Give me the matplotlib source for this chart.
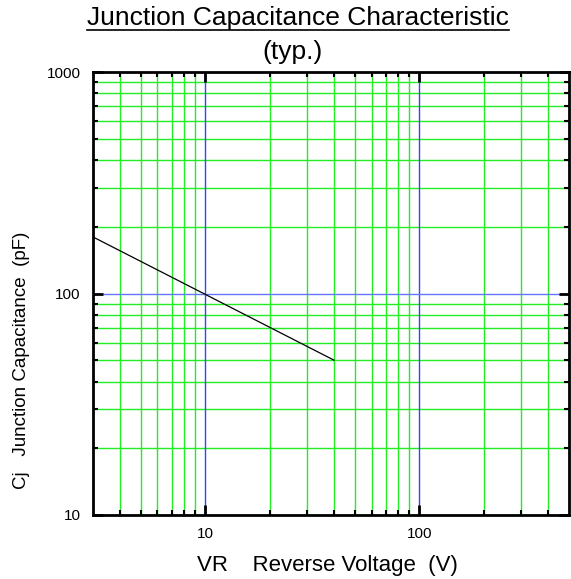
import matplotlib
matplotlib.use("Agg")
import matplotlib.pyplot as plt
from matplotlib.lines import Line2D
from matplotlib.ticker import NullFormatter, FixedLocator, FixedFormatter

plt.rcParams['font.family'] = ['Liberation Sans', 'DejaVu Sans']

# Donnees
vr = [3, 40]
cj = [180, 50]
x_major = [10, 100]
x_minor = [4, 5, 6, 7, 8, 9, 20, 30, 40, 50, 60, 70, 80, 90, 200, 300, 400]
y_major = [10, 100, 1000]
y_minor = [20, 30, 40, 50, 60, 70, 80, 90, 200, 300, 400, 500, 600, 700, 800, 900]

fig = plt.figure(figsize=(5.71, 5.79), dpi=100)
ax = fig.add_axes([93/571, 1 - 515/579, (569-93)/571, (515-72)/579])
ax.set_xscale('log')
ax.set_yscale('log')
ax.set_xlim(3, 500)
ax.set_ylim(10, 1000)

# Grille
for v in x_minor:
    ax.axvline(v, color='#22ee22', lw=1.0, zorder=1)
for v in y_minor:
    ax.axhline(v, color='#22ee22', lw=1.0, zorder=1)
for v in x_major:
    ax.axvline(v, color='#3344ff', lw=1.0, zorder=1.5)
ax.axhline(100, color='#6677ff', lw=1.0, zorder=1.5)

ax.plot(vr, cj, color='black', lw=0.9, zorder=3)

# Graduations
ax.xaxis.set_major_locator(FixedLocator(x_major))
ax.xaxis.set_major_formatter(FixedFormatter(['10', '100']))
ax.xaxis.set_minor_locator(FixedLocator(x_minor))
ax.xaxis.set_minor_formatter(NullFormatter())
ax.yaxis.set_major_locator(FixedLocator(y_major))
ax.yaxis.set_major_formatter(FixedFormatter(['10', '100', '1000']))
ax.yaxis.set_minor_locator(FixedLocator(y_minor))
ax.yaxis.set_minor_formatter(NullFormatter())
ax.tick_params(which='both', direction='in', top=True, right=True,
               color='black', labelsize=11)
ax.tick_params(which='major', length=7, width=2, pad=9)
ax.tick_params(which='minor', length=3.5, width=1.5)
for s in ax.spines.values():
    s.set_linewidth(2)

fig.text(327/571, 1 - 565/579, 'VR    Reverse Voltage  (V)', ha='center', va='center', fontsize=16)
fig.text(22/571, 1 - 360/579, 'Cj   Junction Capacitance  (pF)', ha='center', va='center',
         rotation=90, fontsize=13.5)

title = fig.text(298/571, 1 - 25/579, 'Junction Capacitance Characteristic',
                 ha='center', va='baseline', fontsize=19)
fig.text(292/571, 1 - 52/579, '(typ.)', ha='center', va='center', fontsize=19)

# Souligner le titre
fig.canvas.draw()
bb = title.get_window_extent().transformed(fig.transFigure.inverted())
uy = 1 - 30/579
fig.add_artist(Line2D([bb.x0, bb.x1], [uy, uy], color='black', lw=1.2,
                      transform=fig.transFigure))

fig.savefig('out.png', dpi=100)
